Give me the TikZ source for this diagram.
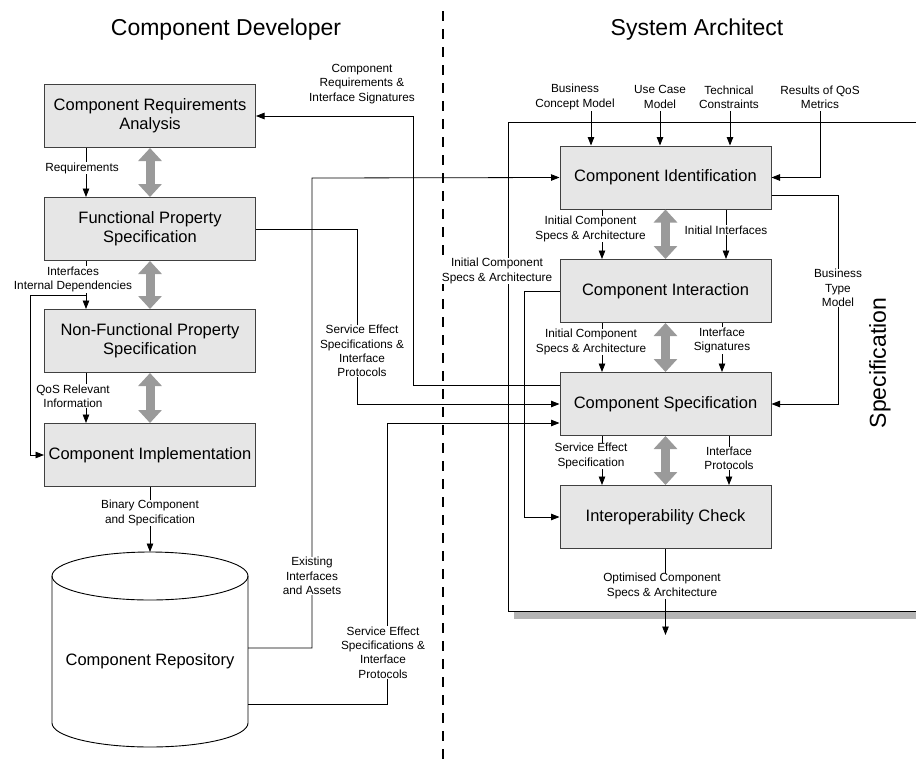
\documentclass[tikz,border=0pt]{standalone}
\usepackage{fontspec}
\setmainfont{Liberation Sans}
\usetikzlibrary{arrows.meta}
\definecolor{boxgray}{HTML}{E6E6E6}
\definecolor{flowgray}{HTML}{9A9A9A}
\definecolor{shadowgray}{HTML}{B4B4B4}

\begin{document}
\begin{tikzpicture}[x=1pt, y=-1pt,
  stepbox/.style={draw=black!75, fill=boxgray, line width=1pt,
    minimum width=211pt, minimum height=63pt, inner sep=0pt, align=center,
    font=\fontsize{16.5}{19}\selectfont},
  lbl/.style={font=\fontsize{11.8}{14.3}\selectfont, align=center,
    fill=white, inner sep=0.5pt},
  wire/.style={line width=0.8pt},
  conn/.style={wire, -{Triangle[length=8.5pt,width=6.5pt]}},
  flow/.style={draw=flowgray, line width=9pt,
    {Triangle[length=13pt,width=23pt]}-{Triangle[length=13pt,width=23pt]}},
  heading/.style={font=\fontsize{23}{27}\selectfont, anchor=base}]
\useasboundingbox (0,0) rectangle (916,764);

% ---- role headings and divider
\node[heading] (dev) at (226,35) {Component Developer};
\node[heading] (arch) at (697,35) {System Architect};
\draw[line width=2.7pt, dash pattern=on 10pt off 8pt] (443,11) -- (443,764);

% ---- specification workflow frame
\fill[shadowgray] (514,611) rectangle (920,619);
\draw[wire] (920,122) -- (508,122) -- (508,611) -- (920,611);
\node[rotate=90, font=\fontsize{23}{27}\selectfont] (spec) at (880,363) {Specification};

% ---- developer workflow
\node[stepbox] (cra)  at (150,116) {Component Requirements\\Analysis};
\node[stepbox] (fps)  at (150,229) {Functional Property\\Specification};
\node[stepbox] (nfps) at (150,341) {Non-Functional Property\\Specification};
\node[stepbox] (impl) at (150,455) {Component Implementation};

% ---- component repository (cylinder)
\draw[line width=0.9pt, fill=white] (52,576) -- (52,723)
  arc[start angle=180, end angle=360, x radius=98pt, y radius=24pt] -- (248,576);
\draw[line width=0.9pt] (150,576) ellipse [x radius=98pt, y radius=24pt];
\node[minimum width=196pt, minimum height=147pt, inner sep=0pt] (repo) at (150,649.5) {};
\node[font=\fontsize{16.5}{19}\selectfont] (repotext) at (150,661) {Component Repository};
\coordinate (repotop) at (150,552);

% ---- architect workflow
\node[stepbox] (cid)  at (665.5,177.5) {Component Identification};
\node[stepbox] (cint) at (665.5,291) {Component Interaction};
\node[stepbox] (cs)   at (665.5,404) {Component Specification};
\node[stepbox] (ic)   at (665.5,517) {Interoperability Check};
\coordinate (out) at (665.5,635);

% ---- iteration arrows
\draw[flow] (cra.south) -- (fps.north);
\draw[flow] (fps.south) -- (nfps.north);
\draw[flow] (nfps.south) -- (impl.north);
\draw[flow] (cid.south) -- (cint.north);
\draw[flow] (cint.south) -- (cs.north);
\draw[flow] (cs.south) -- (ic.north);

% ---- developer data flow
\draw[conn] ([xshift=-64pt]cra.south) -- ([xshift=-64pt]fps.north);
\draw[conn] ([xshift=-64pt]fps.south) -- ([xshift=-64pt]nfps.north);
\draw[conn] ([xshift=-64pt]nfps.south) -- ([xshift=-64pt]impl.north);
\draw[conn] (impl.south) -- (repotop);

% ---- cross-role data flow
\draw[conn] ([yshift=19pt]cs.west) -| (413,116) -- (cra.east);
\draw[conn] (fps.east) -| (357,404) -- (cs.west);
\draw[conn] ([yshift=1.5pt]repo.east) -| (312,178) -- (cid.west);
\draw[conn] ([yshift=-54.5pt]repo.east) -| (387,423) -- ([yshift=-19pt]cs.west);

% ---- architect data flow
\draw[conn] (591,111) -- ([xshift=-74.5pt]cid.north);
\draw[conn] (660,111) -- ([xshift=-5.5pt]cid.north);
\draw[conn] (730,111) -- ([xshift=64.5pt]cid.north);
\draw[conn] (820,111) |- (cid.east);
\draw[conn] ([xshift=-63.5pt]cid.south) -- ([xshift=-63.5pt]cint.north);
\draw[conn] ([xshift=60.5pt]cid.south) -- ([xshift=60.5pt]cint.north);
\draw[conn] ([xshift=-63.5pt]cint.south) -- ([xshift=-63.5pt]cs.north);
\draw[conn] ([xshift=56.5pt]cint.south) -- ([xshift=56.5pt]cs.north);
\draw[conn] ([xshift=-63.5pt]cs.south) -- ([xshift=-63.5pt]ic.north);
\draw[conn] ([xshift=63.5pt]cs.south) -- ([xshift=63.5pt]ic.north);
\draw[conn] (cint.west) -- (524,291) |- (ic.west);
\draw[conn] ([yshift=-17.5pt]cid.east) -- (838,195) |- (cs.east);
\draw[conn] (ic.south) -- (out);

% ---- flow labels
\node[lbl] at (82,168) {Requirements};
\node[lbl] at (73,279.5) {Interfaces\\Internal Dependencies};
\node[lbl] at (73,396) {QoS Relevant\\Information};
\node[lbl] at (150,513) {Binary Component\\and Specification};
\node[lbl] at (362,84) {Component\\Requirements \&\\Interface Signatures};
\node[lbl] at (362,351) {Service Effect\\Specifications \&\\Interface\\Protocols};
\node[lbl] at (312,576) {Existing\\Interfaces\\and Assets};
\node[lbl] at (383,652.5) {Service Effect\\Specifications \&\\Interface\\Protocols};
\node[lbl] at (575,97) {Business\\Concept Model};
\node[lbl] at (660,97) {Use Case\\Model};
\node[lbl] at (729,97) {Technical\\Constraints};
\node[lbl] at (820,97) {Results of QoS\\Metrics};
\node[lbl] at (590.5,229) {Initial Component\\Specs \& Architecture};
\node[lbl] at (726,230) {Initial Interfaces};
\node[lbl] at (497,271) {Initial Component\\Specs \& Architecture};
\node[lbl] at (838,288) {Business\\Type\\Model};
\node[lbl] at (591,342) {Initial Component\\Specs \& Architecture};
\node[lbl] at (722,340.5) {Interface\\Signatures};
\node[lbl] at (591,456) {Service Effect\\Specification};
\node[lbl] at (729,458.5) {Interface\\Protocols};
\node[lbl] at (662,586) {Optimised Component\\Specs \& Architecture};

% ---- internal dependencies bypass into the implementation
\coordinate (dep) at (86,295);
\draw[conn] (dep) -- (30,295) |- (impl.west);
\end{tikzpicture}
\end{document}
